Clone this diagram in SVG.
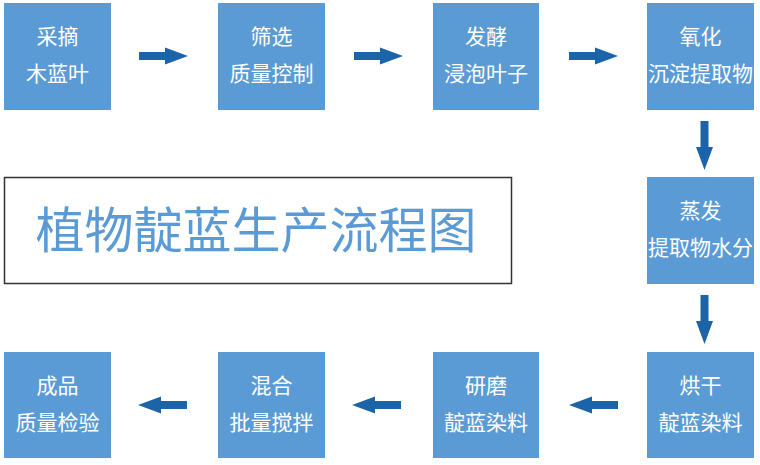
<svg xmlns="http://www.w3.org/2000/svg" xmlns:xlink="http://www.w3.org/1999/xlink" width="760" height="465" viewBox="0 0 760 465">
<style>
.box{fill:#5b9bd5;}
.lbl{font-family:"Noto Sans CJK SC","Noto Sans",sans-serif;font-size:21px;fill:#ffffff;text-anchor:middle;}
.arr{fill:#1c64a8;}
.title{font-family:"Noto Sans CJK SC","Noto Sans",sans-serif;font-size:49px;fill:#5b9bd5;text-anchor:middle;}
</style>
<defs>
<path id="ar" d="M0,-4 L26,-4 L26,-8.5 L49,0 L26,8.5 L26,4 L0,4 Z"/>
</defs>
<rect width="760" height="465" fill="#ffffff"/>
<g id="title">
<rect x="4.5" y="177.5" width="507" height="106" fill="#ffffff" stroke="#333333" stroke-width="1.5"/>
<text class="title" x="256" y="248">植物靛蓝生产流程图</text>
</g>
<g id="n1"><rect class="box" x="4" y="3" width="107" height="107"/><text class="lbl" x="57.5" y="44">采摘</text><text class="lbl" x="57.5" y="81">木蓝叶</text></g>
<g id="n2"><rect class="box" x="218" y="3" width="107" height="107"/><text class="lbl" x="271.5" y="44">筛选</text><text class="lbl" x="271.5" y="81">质量控制</text></g>
<g id="n3"><rect class="box" x="433" y="3" width="106" height="107"/><text class="lbl" x="486" y="44">发酵</text><text class="lbl" x="486" y="81">浸泡叶子</text></g>
<g id="n4"><rect class="box" x="647" y="3" width="107" height="107"/><text class="lbl" x="700.5" y="44">氧化</text><text class="lbl" x="700.5" y="81">沉淀提取物</text></g>
<g id="n5"><rect class="box" x="647" y="177" width="107" height="107"/><text class="lbl" x="700.5" y="218">蒸发</text><text class="lbl" x="700.5" y="255">提取物水分</text></g>
<g id="n6"><rect class="box" x="647" y="352" width="107" height="106"/><text class="lbl" x="700.5" y="393">烘干</text><text class="lbl" x="700.5" y="430">靛蓝染料</text></g>
<g id="n7"><rect class="box" x="433" y="352" width="106" height="106"/><text class="lbl" x="486" y="393">研磨</text><text class="lbl" x="486" y="430">靛蓝染料</text></g>
<g id="n8"><rect class="box" x="218" y="352" width="107" height="106"/><text class="lbl" x="271.5" y="393">混合</text><text class="lbl" x="271.5" y="430">批量搅拌</text></g>
<g id="n9"><rect class="box" x="4" y="352" width="107" height="106"/><text class="lbl" x="57.5" y="393">成品</text><text class="lbl" x="57.5" y="430">质量检验</text></g>
<g id="connectors" class="arr">
<use xlink:href="#ar" transform="translate(139,56)"/>
<use xlink:href="#ar" transform="translate(354,56)"/>
<use xlink:href="#ar" transform="translate(569,56)"/>
<use xlink:href="#ar" transform="translate(704.5,121) rotate(90)"/>
<use xlink:href="#ar" transform="translate(704.5,295) rotate(90)"/>
<use xlink:href="#ar" transform="translate(618,405) rotate(180)"/>
<use xlink:href="#ar" transform="translate(401,405) rotate(180)"/>
<use xlink:href="#ar" transform="translate(187,405) rotate(180)"/>
</g>
</svg>
